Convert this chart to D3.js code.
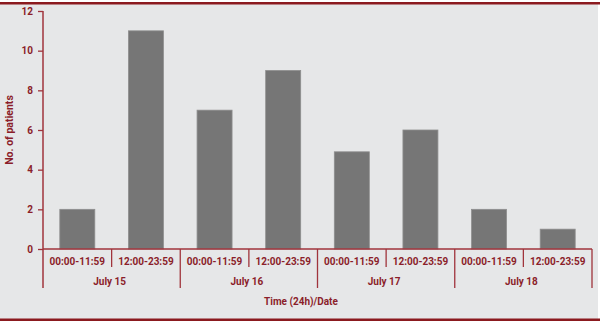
<!DOCTYPE html>
<html><head><meta charset="utf-8">
<script src="https://cdn.jsdelivr.net/npm/d3@7"></script>
<style>body{margin:0;background:#fff}svg text{font-family:Roboto,"Liberation Sans",sans-serif;font-weight:bold;fill:#8b1e2a}</style>
</head><body>
<svg id="c" width="600" height="323"></svg>
<script>
const dates = ["July 15","July 16","July 17","July 18"];
const periods = ["00:00-11:59","12:00-23:59"];
const values = [2, 11, 7, 9, 4.9, 6, 2, 1];
const yTicks = [0,2,4,6,8,10,12];

const svg = d3.select("#c");
const red = "#8b1e2a", axisC = "#a0343c";
svg.append("rect").attr("x",0).attr("y",4).attr("width",598).attr("height",315).attr("fill","#e6e7e8");
svg.append("rect").attr("x",0).attr("y",2).attr("width",600).attr("height",2.5).attr("fill","#8b1a1f");
svg.append("rect").attr("x",0).attr("y",318.5).attr("width",600).attr("height",2.5).attr("fill","#8b1a1f");

const cats = [];
dates.forEach(d => periods.forEach(p => cats.push({d,p})));
const data = cats.map((c,i)=>({...c, key:c.d+"|"+c.p, v:values[i]}));

const x = d3.scaleBand().domain(data.map(d=>d.key)).range([43,592]).paddingInner(0.49).paddingOuter(0.245);
const xs = d3.scaleBand().domain(data.map(d=>d.key)).range([43,592]);
const y = d3.scaleLinear().domain([0,12]).range([249,11]);

svg.selectAll(".bar").data(data).join("rect")
  .attr("x",d=>x(d.key)).attr("y",d=>y(d.v)).attr("width",x.bandwidth()).attr("height",d=>y(0)-y(d.v))
  .attr("fill","#767676").attr("stroke","#8e8e8e").attr("stroke-width",0.8);

// y axis
const ya = svg.append("g").attr("transform","translate(43,0)").call(d3.axisLeft(y).tickValues(yTicks).tickSize(5).tickPadding(5));
ya.select(".domain").remove();
ya.selectAll(".tick line").attr("stroke",axisC).attr("stroke-width",1.3);
ya.selectAll(".tick text").style("font-size","10px").attr("fill",red);
svg.append("line").attr("x1",43).attr("x2",43).attr("y1",11).attr("y2",288).attr("stroke",axisC).attr("stroke-width",1.5);
svg.append("line").attr("x1",43).attr("x2",592).attr("y1",249).attr("y2",249).attr("stroke",axisC).attr("stroke-width",1.5);

// separators
data.forEach((d,i)=>{
  const xr = xs(d.key)+xs.bandwidth();
  const isGroupEnd = (i%2===1);
  svg.append("line").attr("x1",xr).attr("x2",xr).attr("y1",249).attr("y2",isGroupEnd?288:267).attr("stroke",axisC).attr("stroke-width",1.3);
});
// category labels
svg.selectAll(".cl").data(data).join("text")
  .attr("x",d=>xs(d.key)+xs.bandwidth()/2).attr("y",265).attr("text-anchor","middle").style("font-size","10px").text(d=>d.p);
// group labels
svg.selectAll(".gl").data(dates).join("text")
  .attr("x",d=>xs(d+"|"+periods[0])+xs.bandwidth()-2).attr("y",285).attr("text-anchor","middle").style("font-size","10px").text(d=>d);
svg.append("text").attr("x",301).attr("y",305).attr("text-anchor","middle").style("font-size","10px").text("Time (24h)/Date");
svg.append("text").attr("transform","translate(13,130) rotate(-90)").attr("text-anchor","middle").style("font-size","10.5px").text("No. of patients");
</script>
</body></html>
